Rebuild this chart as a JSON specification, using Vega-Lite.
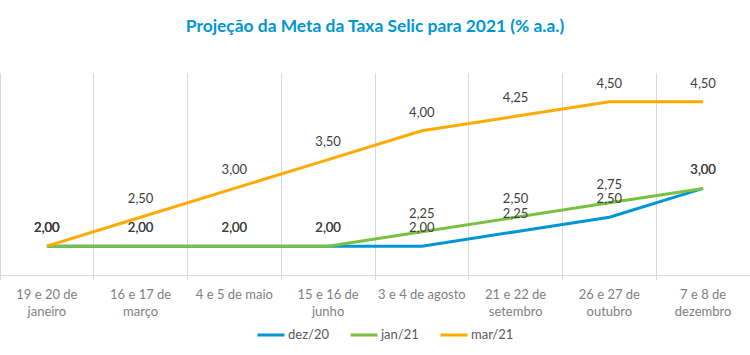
{
  "$schema": "https://vega.github.io/schema/vega-lite/v6.json",
  "width": 750,
  "height": 202,
  "autosize": {"type": "none"},
  "padding": {"left": 0, "right": 0, "top": 73, "bottom": 80},
  "background": "white",
  "title": {
    "text": "Projeção da Meta da Taxa Selic para 2021 (% a.a.)",
    "font": "Lato",
    "fontSize": 17.4,
    "fontWeight": "bold",
    "color": "#0096D6",
    "anchor": "middle",
    "offset": 38
  },
  "config": {
    "view": {"stroke": null},
    "locale": {"number": {"decimal": ",", "thousands": ".", "grouping": [3], "currency": ["R$", ""]}}
  },
  "data": {
    "values": [
      {"reuniao": "19 e 20 de|janeiro", "serie": "dez/20", "valor": 2.00},
      {"reuniao": "16 e 17 de|março", "serie": "dez/20", "valor": 2.00},
      {"reuniao": "4 e 5 de maio", "serie": "dez/20", "valor": 2.00},
      {"reuniao": "15 e 16 de|junho", "serie": "dez/20", "valor": 2.00},
      {"reuniao": "3 e 4 de agosto", "serie": "dez/20", "valor": 2.00},
      {"reuniao": "21 e 22 de|setembro", "serie": "dez/20", "valor": 2.25},
      {"reuniao": "26 e 27 de|outubro", "serie": "dez/20", "valor": 2.50},
      {"reuniao": "7 e 8 de|dezembro", "serie": "dez/20", "valor": 3.00},
      {"reuniao": "19 e 20 de|janeiro", "serie": "jan/21", "valor": 2.00},
      {"reuniao": "16 e 17 de|março", "serie": "jan/21", "valor": 2.00},
      {"reuniao": "4 e 5 de maio", "serie": "jan/21", "valor": 2.00},
      {"reuniao": "15 e 16 de|junho", "serie": "jan/21", "valor": 2.00},
      {"reuniao": "3 e 4 de agosto", "serie": "jan/21", "valor": 2.25},
      {"reuniao": "21 e 22 de|setembro", "serie": "jan/21", "valor": 2.50},
      {"reuniao": "26 e 27 de|outubro", "serie": "jan/21", "valor": 2.75},
      {"reuniao": "7 e 8 de|dezembro", "serie": "jan/21", "valor": 3.00},
      {"reuniao": "19 e 20 de|janeiro", "serie": "mar/21", "valor": 2.00},
      {"reuniao": "16 e 17 de|março", "serie": "mar/21", "valor": 2.50},
      {"reuniao": "4 e 5 de maio", "serie": "mar/21", "valor": 3.00},
      {"reuniao": "15 e 16 de|junho", "serie": "mar/21", "valor": 3.50},
      {"reuniao": "3 e 4 de agosto", "serie": "mar/21", "valor": 4.00},
      {"reuniao": "21 e 22 de|setembro", "serie": "mar/21", "valor": 4.25},
      {"reuniao": "26 e 27 de|outubro", "serie": "mar/21", "valor": 4.50},
      {"reuniao": "7 e 8 de|dezembro", "serie": "mar/21", "valor": 4.50}
    ]
  },
  "layer": [
    {
      "mark": {"type": "line", "strokeWidth": 3},
      "encoding": {
        "x": {
          "field": "reuniao", "type": "nominal", "sort": null, "bandPosition": 0.5,
          "scale": {"type": "band", "paddingInner": 0, "paddingOuter": 0},
          "axis": {
            "title": null, "orient": "bottom", "grid": false, "ticks": false, "domain": true,
            "domainColor": "#D9D9D9", "domainWidth": 1, "labelAngle": 0,
            "labelExpr": "split(datum.value, '|')",
            "labelFont": "Lato", "labelFontSize": 13, "labelColor": "#7F7F7F",
            "labelPadding": 13, "labelLineHeight": 17, "labelBaseline": "top"
          }
        },
        "y": {
          "field": "valor", "type": "quantitative",
          "scale": {"domain": [1.5, 5], "nice": false, "zero": false},
          "axis": null
        },
        "color": {
          "field": "serie", "type": "nominal",
          "scale": {"domain": ["dez/20", "jan/21", "mar/21"], "range": ["#0096D6", "#7AC143", "#FFAA00"]},
          "legend": {
            "orient": "none", "legendX": 256, "legendY": 247, "direction": "horizontal", "title": null,
            "symbolType": "stroke", "symbolStrokeWidth": 3, "symbolSize": 729,
            "labelFont": "Lato", "labelFontSize": 13, "labelColor": "#595959",
            "columnPadding": 15, "labelOffset": 2
          }
        }
      }
    },
    {
      "mark": {"type": "text", "dy": -18, "baseline": "middle", "font": "Lato", "fontSize": 13, "color": "#404040"},
      "encoding": {
        "x": {
          "field": "reuniao", "type": "nominal", "sort": null, "bandPosition": 0.5,
          "axis": {
            "title": null, "orient": "bottom", "bandPosition": 0, "grid": true, "gridColor": "#D9D9D9",
            "ticks": true, "tickSize": 5, "tickColor": "#D9D9D9", "labels": false, "domain": false
          }
        },
        "y": {"field": "valor", "type": "quantitative"},
        "text": {"field": "valor", "type": "quantitative", "format": ".2f"}
      }
    }
  ],
  "resolve": {"axis": {"x": "independent"}}
}
